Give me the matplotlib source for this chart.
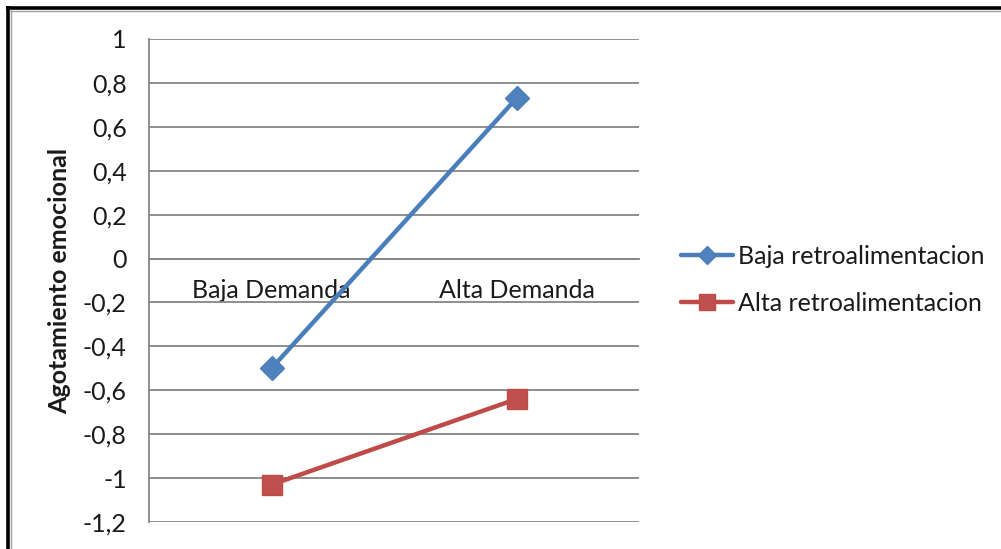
import matplotlib
matplotlib.use("Agg")
import matplotlib.pyplot as plt
from matplotlib.lines import Line2D
from matplotlib.ticker import FuncFormatter, MultipleLocator

plt.rcParams['font.family'] = ['Lato', 'DejaVu Sans']

categories = ["Baja Demanda", "Alta Demanda"]
series_names = ["Baja retroalimentacion", "Alta retroalimentacion"]
baja_retro = [-0.50, 0.73]
alta_retro = [-1.03, -0.64]
y_ticks = [-1.2, -1.0, -0.8, -0.6, -0.4, -0.2, 0.0, 0.2, 0.4, 0.6, 0.8, 1.0]

W, H = 1001, 549
FS = 18
fig = plt.figure(figsize=(W / 100, H / 100), dpi=100)
fig.patch.set_facecolor("white")

ax = fig.add_axes([149 / W, 1 - 522 / H, (639 - 149) / W, (522 - 39) / H])
x = list(range(len(categories)))

grid_c = "#868686"
ax.set_xlim(-0.5, len(categories) - 0.5)
ax.set_ylim(y_ticks[0], y_ticks[-1])
ax.yaxis.set_major_locator(MultipleLocator(0.2))
ax.yaxis.set_major_formatter(
    FuncFormatter(lambda v, p: ("%g" % round(v, 1)).replace(".", ",") if abs(v) > 1e-9 else "0"))
ax.grid(axis="y", color=grid_c, linewidth=1.3)
ax.set_axisbelow(True)

for s in ("top", "right"):
    ax.spines[s].set_visible(False)
ax.spines["left"].set_color(grid_c)
ax.spines["left"].set_linewidth(1.3)
ax.spines["bottom"].set_position(("data", 0))
ax.spines["bottom"].set_color(grid_c)
ax.spines["bottom"].set_linewidth(1.3)

ax.set_xticks(x)
ax.set_xticklabels(categories)
ax.tick_params(axis="x", length=0, pad=15, labelsize=FS, labelcolor="#1a1a1a")
ax.tick_params(axis="y", length=0, pad=16, labelsize=FS, labelcolor="#1a1a1a")

ax.plot(x, baja_retro, color="#4A7EBB", linewidth=3.2, marker="D", markersize=12,
        markerfacecolor="#4F81BD", markeredgecolor="#4A7EBB", markeredgewidth=1,
        label=series_names[0], zorder=3, solid_capstyle="round")
ax.plot(x, alta_retro, color="#BE4B48", linewidth=3.2, marker="s", markersize=15,
        markerfacecolor="#C0504D", markeredgecolor="#BE4B48", markeredgewidth=1,
        label=series_names[1], zorder=3, solid_capstyle="round")

ax.set_ylabel("Agotamiento emocional", fontsize=FS, fontweight="bold", color="#1a1a1a")
ax.yaxis.set_label_coords(-0.158, 0.5)

leg = fig.legend(loc="center left", bbox_to_anchor=(658 / W, 1 - 280 / H), frameon=False,
                 fontsize=FS, handlelength=2.1, handletextpad=0.2, labelspacing=0.95,
                 numpoints=1, markerscale=0.8, labelcolor="#1a1a1a")

# chart frame
fig.add_artist(Line2D([7.5 / W, 7.5 / W], [0, 1 - 6 / H], transform=fig.transFigure,
                      color="black", linewidth=2.6, solid_capstyle="butt"))
fig.add_artist(Line2D([6 / W, 1], [1 - 7.5 / H, 1 - 7.5 / H], transform=fig.transFigure,
                      color="black", linewidth=2.6, solid_capstyle="butt"))
fig.add_artist(Line2D([10.5 / W, 10.5 / W], [0, 1 - 10 / H], transform=fig.transFigure,
                      color="#a0a0a0", linewidth=1.0, solid_capstyle="butt"))
fig.add_artist(Line2D([10 / W, 1], [1 - 10.5 / H, 1 - 10.5 / H], transform=fig.transFigure,
                      color="#a0a0a0", linewidth=1.0, solid_capstyle="butt"))

fig.savefig("out.png", dpi=100, facecolor="white")
